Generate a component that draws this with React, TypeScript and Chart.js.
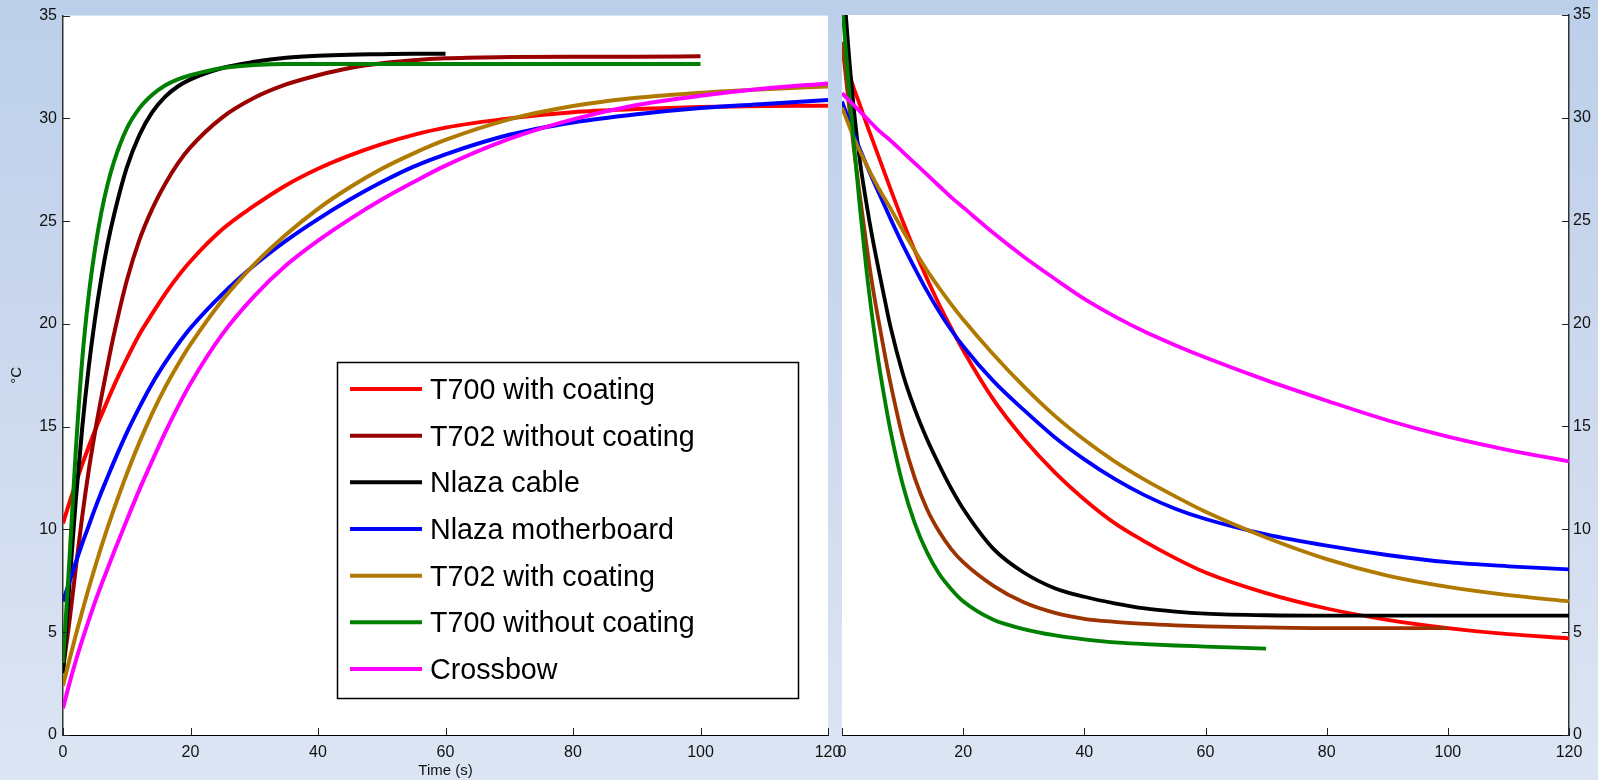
import React, { useEffect, useRef } from 'react';
import { Chart, registerables } from 'chart.js';

Chart.register(...registerables);

const FONT = '"Liberation Sans", Arial, Helvetica, sans-serif';

// ---------- data ----------
const seriesLabels = [
  'T700 with coating',
  'T702 without coating',
  'Nlaza cable',
  'Nlaza motherboard',
  'T702 with coating',
  'T700 without coating',
  'Crossbow',
];
const heatingColors = ['#FF0000', '#990000', '#000000', '#0000FF', '#B07A00', '#008000', '#FF00FF'];
const coolingColors = ['#FF0000', '#9C3300', '#000000', '#0000FF', '#B07A00', '#008000', '#FF00FF'];

const xTicks = [0, 20, 40, 60, 80, 100, 120];
const yTicks = [0, 5, 10, 15, 20, 25, 30, 35];

const sampleTimes = [0, 1, 2, 3, 4, 5, 6, 7, 8, 10, 12, 14, 16, 18, 20, 25, 30, 35, 40, 45, 50, 55, 60, 70, 80, 90, 100, 110, 120];

// heating (left panel)
const heatT700Coated = [10.3, 11.3, 12.25, 13.15, 14.0, 14.8, 15.55, 16.28, 17.0, 18.3, 19.5, 20.5, 21.45, 22.3, 23.05, 24.6, 25.75, 26.75, 27.55, 28.2, 28.75, 29.2, 29.55, 30.0, 30.3, 30.45, 30.55, 30.6, 30.62];
const heatT702Bare = [3.2, 5.5, 8.1, 10.6, 12.8, 14.7, 16.4, 18.0, 19.5, 22.1, 24.1, 25.6, 26.8, 27.8, 28.6, 30.05, 31.0, 31.65, 32.1, 32.45, 32.68, 32.83, 32.92, 32.98, 33.0, 33.0, 33.02];
const heatCable = [3.0, 7.3, 11.4, 14.9, 17.8, 20.2, 22.2, 23.9, 25.3, 27.6, 29.2, 30.3, 31.05, 31.55, 31.9, 32.45, 32.75, 32.95, 33.05, 33.1, 33.12, 33.14, 33.15];
const heatBoard = [6.5, 7.45, 8.4, 9.3, 10.15, 11.0, 11.8, 12.55, 13.3, 14.7, 15.95, 17.1, 18.1, 19.0, 19.8, 21.45, 22.85, 24.05, 25.1, 26.05, 26.9, 27.65, 28.25, 29.2, 29.8, 30.2, 30.5, 30.7, 30.9];
const heatT702Coated = [2.4, 3.65, 4.85, 6.0, 7.1, 8.15, 9.15, 10.1, 11.0, 12.7, 14.25, 15.65, 16.9, 18.0, 19.0, 21.15, 22.9, 24.35, 25.6, 26.65, 27.55, 28.3, 28.95, 29.95, 30.6, 31.0, 31.25, 31.42, 31.55];
const heatT700Bare = [3.5, 8.5, 13.8, 18.2, 21.3, 23.6, 25.4, 26.8, 27.9, 29.5, 30.5, 31.15, 31.6, 31.9, 32.1, 32.45, 32.6, 32.65, 32.65, 32.65, 32.65, 32.65, 32.65, 32.65, 32.65, 32.65, 32.65];
const heatCrossbow = [1.3, 2.5, 3.6, 4.6, 5.55, 6.45, 7.3, 8.1, 8.9, 10.45, 11.95, 13.35, 14.7, 15.95, 17.1, 19.5, 21.35, 22.85, 24.05, 25.1, 26.05, 26.9, 27.7, 29.0, 29.95, 30.65, 31.1, 31.45, 31.7];

// cooling (right panel)
const coolT700Coated = [33.2, 32.3, 31.4, 30.6, 29.75, 28.95, 28.15, 27.35, 26.55, 25.0, 23.55, 22.2, 20.95, 19.8, 18.7, 16.3, 14.4, 12.8, 11.45, 10.3, 9.4, 8.6, 7.9, 6.9, 6.15, 5.6, 5.2, 4.9, 4.7];
const coolT702Bare = [33.7, 31.0, 28.4, 26.1, 23.9, 21.9, 20.2, 18.6, 17.1, 14.5, 12.5, 11.0, 9.9, 9.05, 8.4, 7.25, 6.45, 5.95, 5.65, 5.5, 5.4, 5.33, 5.28, 5.23, 5.2, 5.2, 5.2];
const coolCable = [37.5, 33.6, 30.3, 27.8, 25.9, 24.2, 22.7, 21.25, 19.85, 17.6, 15.85, 14.4, 13.15, 12.0, 11.0, 9.05, 7.9, 7.15, 6.72, 6.4, 6.15, 6.0, 5.9, 5.82, 5.8, 5.8, 5.8, 5.8, 5.8];
const coolBoard = [30.8, 30.0, 29.2, 28.45, 27.75, 27.05, 26.4, 25.75, 25.1, 23.85, 22.7, 21.6, 20.6, 19.7, 18.9, 17.2, 15.8, 14.5, 13.4, 12.45, 11.65, 11.0, 10.5, 9.75, 9.2, 8.75, 8.4, 8.2, 8.05];
const coolT702Coated = [30.5, 29.75, 29.0, 28.35, 27.75, 27.15, 26.6, 26.1, 25.6, 24.55, 23.55, 22.6, 21.75, 20.95, 20.2, 18.5, 16.95, 15.55, 14.35, 13.3, 12.4, 11.6, 10.85, 9.6, 8.55, 7.75, 7.2, 6.8, 6.5];
const coolT700Bare = [35.6, 32.0, 28.6, 25.5, 22.7, 20.3, 18.2, 16.4, 14.8, 12.2, 10.3, 8.9, 7.85, 7.1, 6.5, 5.6, 5.15, 4.85, 4.65, 4.5, 4.42, 4.35, 4.3, 4.2];
const coolCrossbow = [31.2, 30.9, 30.6, 30.3, 30.0, 29.7, 29.4, 29.15, 28.9, 28.35, 27.8, 27.25, 26.7, 26.15, 25.65, 24.4, 23.25, 22.2, 21.2, 20.35, 19.6, 18.95, 18.35, 17.25, 16.25, 15.3, 14.5, 13.85, 13.3];

const heatingSeries = [heatT700Coated, heatT702Bare, heatCable, heatBoard, heatT702Coated, heatT700Bare, heatCrossbow];
const coolingSeries = [coolT700Coated, coolT702Bare, coolCable, coolBoard, coolT702Coated, coolT700Bare, coolCrossbow];

// ---------- helpers ----------
function buildDatasets(series: number[][], colors: string[], width: number) {
  return series.map((vals, i) => ({
    label: seriesLabels[i],
    data: vals.map((v, k) => ({ x: sampleTimes[k], y: v })),
    borderColor: colors[i],
    backgroundColor: colors[i],
    borderWidth: width,
    pointRadius: 0,
    fill: false,
    cubicInterpolationMode: 'monotone' as const,
    clip: 0,
    order: series.length - i,
  }));
}

const whiteArea = {
  id: 'whiteArea',
  beforeDraw(chart: any) {
    const { ctx, chartArea } = chart;
    ctx.save();
    ctx.fillStyle = '#FFFFFF';
    ctx.fillRect(chartArea.left, chartArea.top, chartArea.right - chartArea.left, chartArea.bottom - chartArea.top);
    ctx.restore();
  },
};

const inwardTicks = {
  id: 'inwardTicks',
  afterDraw(chart: any) {
    const { ctx, chartArea, scales } = chart;
    ctx.save();
    ctx.strokeStyle = '#222';
    ctx.lineWidth = 1;
    const xs = scales.x;
    xs.ticks.forEach((t: any) => {
      const px = Math.round(xs.getPixelForValue(t.value)) + 0.5;
      ctx.beginPath();
      ctx.moveTo(px, chartArea.bottom);
      ctx.lineTo(px, chartArea.bottom - 7);
      ctx.stroke();
    });
    const ys = scales.y;
    const onRight = ys.position === 'right';
    const side = onRight ? chartArea.right : chartArea.left;
    const dir = onRight ? -1 : 1;
    ys.ticks.forEach((t: any) => {
      const py = Math.round(ys.getPixelForValue(t.value)) + 0.5;
      ctx.beginPath();
      ctx.moveTo(side, py);
      ctx.lineTo(side + dir * 7, py);
      ctx.stroke();
    });
    ctx.restore();
  },
};

const boxLegend = {
  id: 'boxLegend',
  afterDatasetsDraw(chart: any) {
    const { ctx } = chart;
    const left = 337, top = 362, right = 798, bottom = 698;
    ctx.save();
    ctx.fillStyle = '#FFFFFF';
    ctx.fillRect(left, top, right - left, bottom - top);
    ctx.strokeStyle = '#000';
    ctx.lineWidth = 1.5;
    ctx.strokeRect(left + 0.5, top + 0.5, right - left, bottom - top);
    chart.data.datasets.forEach((ds: any, i: number) => {
      const y = 389 + i * 46.67;
      ctx.strokeStyle = ds.borderColor;
      ctx.lineWidth = 4;
      ctx.beginPath();
      ctx.moveTo(350, y);
      ctx.lineTo(422, y);
      ctx.stroke();
      ctx.fillStyle = '#000';
      ctx.font = `28.7px ${FONT}`;
      ctx.textBaseline = 'alphabetic';
      ctx.textAlign = 'left';
      ctx.fillText(ds.label, 430, y + 10);
    });
    ctx.restore();
  },
};

function makeOptions(side: 'left' | 'right', padding: any, yWidth: number, withTitles: boolean) {
  return {
    responsive: false,
    animation: false as const,
    devicePixelRatio: 1,
    layout: { padding },
    plugins: {
      legend: { display: false },
      tooltip: { enabled: false },
    },
    scales: {
      x: {
        type: 'linear' as const,
        min: 0,
        max: 120,
        afterBuildTicks: (scale: any) => {
          scale.ticks = xTicks.map((v) => ({ value: v }));
        },
        afterFit: (scale: any) => {
          scale.height = 45;
        },
        grid: { display: false, drawTicks: false },
        border: { display: true, color: '#000', width: 1 },
        ticks: {
          padding: 8,
          color: '#111',
          font: { family: FONT, size: 16 },
          maxRotation: 0,
          autoSkip: false,
        },
        title: {
          display: withTitles,
          text: 'Time (s)',
          color: '#111',
          font: { family: FONT, size: 15 },
          padding: { top: 0, bottom: 0 },
        },
      },
      y: {
        type: 'linear' as const,
        position: side,
        min: 0,
        max: 35,
        afterBuildTicks: (scale: any) => {
          scale.ticks = yTicks.map((v) => ({ value: v }));
        },
        afterFit: (scale: any) => {
          scale.width = yWidth;
        },
        grid: { display: false, drawTicks: false },
        border: { display: true, color: '#333', width: 1.5 },
        ticks: {
          padding: side === 'left' ? 6 : 4,
          color: '#111',
          font: { family: FONT, size: 16 },
          autoSkip: false,
        },
        title: {
          display: withTitles,
          text: '°C',
          color: '#111',
          font: { family: FONT, size: 15 },
          padding: { top: 8, bottom: 0 },
        },
      },
    },
  };
}

export default function App() {
  const leftRef = useRef<HTMLCanvasElement | null>(null);
  const rightRef = useRef<HTMLCanvasElement | null>(null);

  useEffect(() => {
    if (!leftRef.current || !rightRef.current) return;
    const left = new Chart(leftRef.current, {
      type: 'line',
      data: { datasets: buildDatasets(heatingSeries, heatingColors, 4) as any },
      options: makeOptions('left', { left: 0, top: 15, right: 32, bottom: 0 }, 63, true) as any,
      plugins: [whiteArea, inwardTicks, boxLegend],
    });
    const right = new Chart(rightRef.current, {
      type: 'line',
      data: { datasets: buildDatasets(coolingSeries, coolingColors, 3.8) as any },
      options: makeOptions('right', { left: 42, top: 15, right: 0, bottom: 0 }, 29, false) as any,
      plugins: [whiteArea, inwardTicks],
    });
    return () => {
      left.destroy();
      right.destroy();
    };
  }, []);

  return (
    <div
      style={{
        position: 'fixed',
        left: 0,
        top: 0,
        width: 1598,
        height: 780,
        overflow: 'hidden',
        background: 'linear-gradient(to bottom, #BCCFEA 0%, #CDD9EE 50%, #DCE5F3 100%)',
      }}
    >
      <canvas
        ref={leftRef}
        width={860}
        height={780}
        style={{ position: 'absolute', left: 0, top: 0, width: 860, height: 780 }}
      />
      <canvas
        ref={rightRef}
        width={798}
        height={780}
        style={{ position: 'absolute', left: 800, top: 0, width: 798, height: 780 }}
      />
    </div>
  );
}
